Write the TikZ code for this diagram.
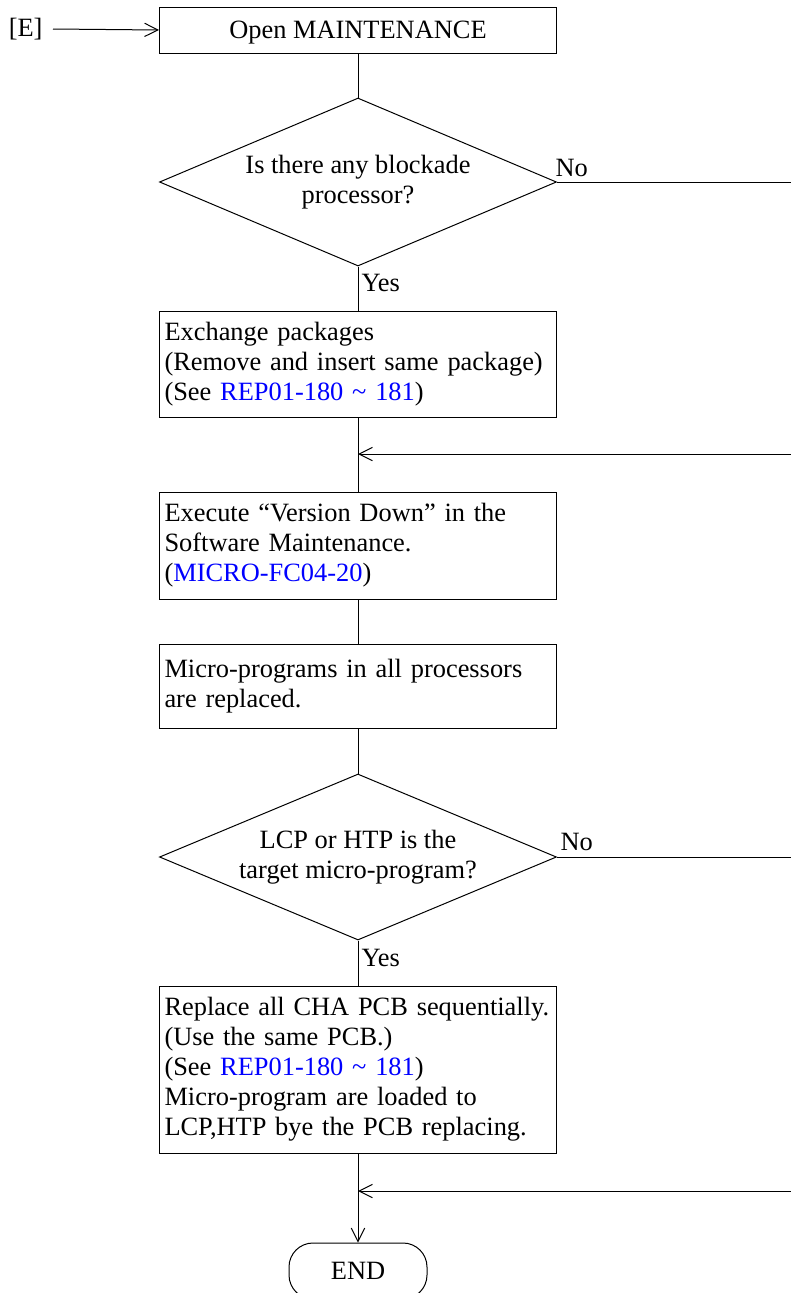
\documentclass[tikz,border=0pt]{standalone}
\usepackage{fontspec}
\setmainfont{Liberation Serif}
\usetikzlibrary{shapes.geometric,arrows.meta}
\definecolor{linkblue}{RGB}{0,0,255}
\begin{document}
\begin{tikzpicture}[x=0.75pt,y=-0.75pt,line width=0.75pt,
  every node/.style={font=\fontsize{19.8}{22.5}\selectfont},
  box/.style={draw,rectangle,minimum width=297.75pt,text width=290.25pt,inner xsep=3.75pt,inner ysep=0pt,align=left},
  titlebox/.style={draw,rectangle,minimum width=297.75pt,minimum height=34.5pt,inner sep=0pt,text depth=0pt,align=center},
  dec/.style={draw,diamond,aspect=2.36,minimum width=297.75pt,inner sep=0pt,align=center},
  term/.style={draw,rectangle,rounded corners=18pt,minimum width=103.5pt,minimum height=42pt,inner sep=0pt},
  arr/.style={-{Straight Barb[length=10pt,width=10pt]}},
  lbl/.style={inner sep=0pt,anchor=base west}]
\useasboundingbox (0,0) rectangle (791,1293);
\clip (0,0) rectangle (791,1293);

\node[anchor=east,inner xsep=7.5pt,inner ysep=0pt] (E) at (53,29) {[E]};
\node[titlebox] (b1) at (358,30) {Open MAINTENANCE};
\node[dec,minimum height=126pt] (d1) at (358,182) {Is there any blockade\\processor?};
\node[box,minimum height=79.5pt] (b2) at (358,364) {Exchange packages\\(Remove and insert same package)\\(See \textcolor{linkblue}{REP01-180 \textasciitilde{} 181})};
\node[box,minimum height=80.25pt] (b3) at (358,545.5) {Execute “Version Down” in the\\Software Maintenance.\\(\textcolor{linkblue}{MICRO-FC04-20})};
\node[box,minimum height=63pt] (b4) at (358,686) {Micro-programs in all processors\\are replaced.};
\node[dec,minimum height=124.5pt] (d2) at (358,857) {LCP or HTP is the\\target micro-program?};
\node[box,minimum height=125.25pt] (b5) at (358,1069.5) {Replace all CHA PCB sequentially.\\(Use the same PCB.)\\(See \textcolor{linkblue}{REP01-180 \textasciitilde{} 181})\\Micro-program are loaded to\\LCP,HTP bye the PCB replacing.};
\node[term] (end) at (358,1271) {END};

\coordinate (r1) at (791,182);
\coordinate (r2) at (791,454);
\coordinate (j1) at (358,454);
\coordinate (r3) at (791,857);
\coordinate (r4) at (791,1191);
\coordinate (j2) at (358,1191);

\draw[arr] (E.east) -- (b1.west);
\draw (b1.south) -- (d1.north);
\draw (d1.east) -- (r1);
\draw (d1.south) -- (b2.north);
\draw (b2.south) -- (b3.north);
\draw[arr] (r2) -- (j1);
\draw (b3.south) -- (b4.north);
\draw (b4.south) -- (d2.north);
\draw (d2.east) -- (r3);
\draw (d2.south) -- (b5.north);
\draw[arr] (b5.south) -- (end.north);
\draw[arr] (r4) -- (j2);

\node[lbl] (no1) at (555,176) {No};
\node[lbl] (yes1) at (361,291) {Yes};
\node[lbl] (no2) at (560,850) {No};
\node[lbl] (yes2) at (361,966) {Yes};
\end{tikzpicture}
\end{document}
